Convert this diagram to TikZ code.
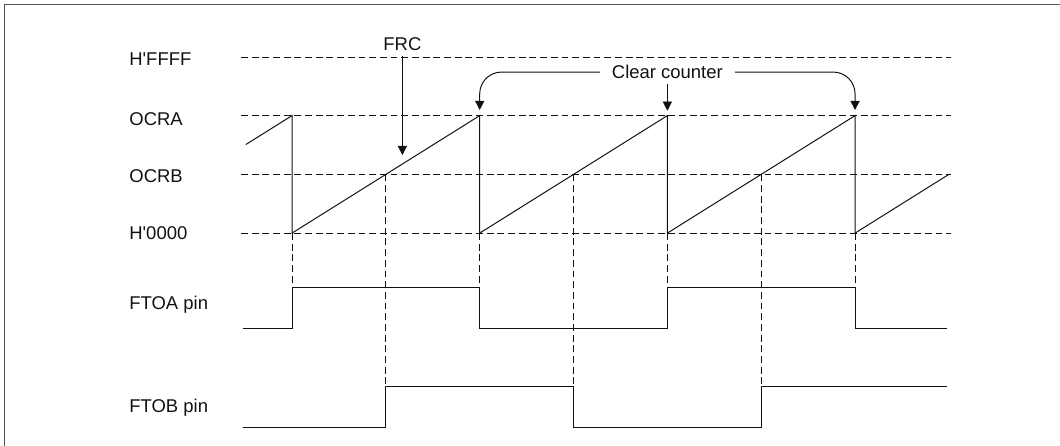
\documentclass[tikz,border=0pt]{standalone}
\usepackage{fontspec}
\setmainfont{Liberation Sans}
\definecolor{framegray}{HTML}{555555}
\definecolor{ink}{HTML}{111111}
\usetikzlibrary{arrows.meta, positioning, calc}
\tikzset{
  lvl/.style={draw=ink, line width=0.7pt, dash pattern=on 5.2pt off 2.9pt},
  guide/.style={draw=ink, line width=0.7pt, dash pattern=on 5.2pt off 2.9pt},
  wave/.style={draw=ink, line width=0.75pt},
  lbl/.style={font=\fontsize{14}{16}\selectfont, anchor=base west, inner sep=0pt, text=ink},
  note/.style={font=\fontsize{14}{16}\selectfont, text=ink},
  arr/.style={-{Triangle[length=7pt,width=7pt]}, line width=0.75pt, draw=ink},
}

\begin{document}
\begin{tikzpicture}
  \useasboundingbox (0,0) rectangle (28.24,-11.88);
  \draw[framegray, line width=1.5pt] (28.3,-0.12) -- (0.12,-0.12) -- (0.12,-11.95);

  % Level labels
  \node[lbl] (ffff) at (3.44,-1.75) {H\textquotesingle FFFF};
  \node[lbl] (ocra) at (3.44,-3.33) {OCRA};
  \node[lbl] (ocrb) at (3.44,-4.86) {OCRB};
  \node[lbl] (zero) at (3.44,-6.39) {H\textquotesingle 0000};
  \node[lbl] (ftoa) at (3.44,-8.24) {FTOA pin};
  \node[lbl] (ftob) at (3.44,-10.98) {FTOB pin};

  % Levels
  \draw[lvl] (6.42,-1.52) -- (25.33,-1.52);
  \draw[lvl] (6.42,-3.08) -- (25.33,-3.08);
  \draw[lvl] (6.42,-4.645) -- (25.33,-4.645);
  \draw[lvl] (6.42,-6.21) -- (25.33,-6.21);

  % FRC count
  \draw[wave] (6.55,-3.85) -- (7.78,-3.08) -- (7.78,-6.21)
    -- (12.78,-3.08) -- (12.78,-6.21) -- (17.78,-3.08) -- (17.78,-6.21)
    -- (22.78,-3.08) -- (22.78,-6.21) -- (25.28,-4.645);

  % Compare match guides
  \draw[guide] (7.78,-6.21) -- (7.78,-7.65);
  \draw[guide] (10.28,-4.645) -- (10.28,-10.30);
  \draw[guide] (12.78,-6.21) -- (12.78,-7.65);
  \draw[guide] (15.28,-4.645) -- (15.28,-10.30);
  \draw[guide] (17.78,-6.21) -- (17.78,-7.65);
  \draw[guide] (20.28,-4.645) -- (20.28,-10.30);
  \draw[guide] (22.78,-6.21) -- (22.78,-7.65);

  % Output pins
  \draw[wave] (6.47,-8.74) -- (7.78,-8.74) -- (7.78,-7.65) -- (12.78,-7.65)
    -- (12.78,-8.74) -- (17.78,-8.74) -- (17.78,-7.65) -- (22.78,-7.65)
    -- (22.78,-8.74) -- (25.24,-8.74);
  \draw[wave] (6.47,-11.39) -- (10.28,-11.39) -- (10.28,-10.30) -- (15.28,-10.30)
    -- (15.28,-11.39) -- (20.28,-11.39) -- (20.28,-10.30) -- (25.24,-10.30);

  % Annotations
  \node[note, anchor=base, inner sep=4pt] (frc) at (10.72,-1.34) {FRC};
  \coordinate (frctip) at (10.72,-4.13);
  \draw[arr] (frc.south) -- (frctip);

  \node[note, inner xsep=9pt, inner ysep=4pt] (clr) at (17.78,-1.92) {Clear counter};
  \coordinate (tipa) at (12.78,-2.93);
  \coordinate (tipb) at (17.78,-2.95);
  \coordinate (tipc) at (22.78,-2.93);
  \draw[arr, rounded corners=0.58cm] (clr.west) -| (tipa);
  \draw[arr] (clr.south) -- (tipb);
  \draw[arr, rounded corners=0.58cm] (clr.east) -| (tipc);
\end{tikzpicture}
\end{document}
